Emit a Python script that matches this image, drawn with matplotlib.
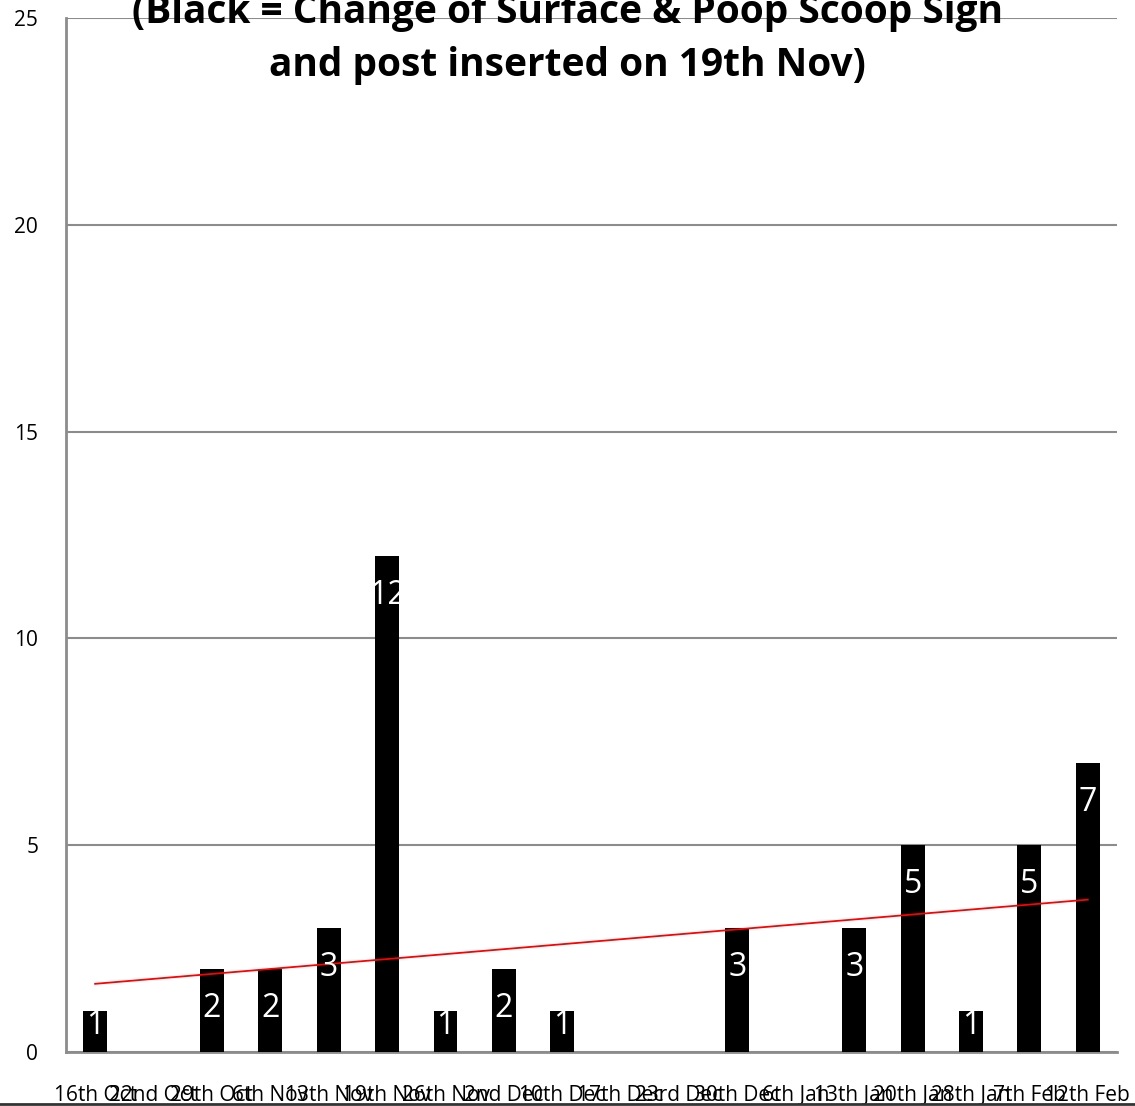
import matplotlib
matplotlib.use('Agg')
import matplotlib.pyplot as plt
import numpy as np

plt.rcParams['font.family'] = ['Open Sans', 'DejaVu Sans']

dates = ['16th Oct', '22nd Oct', '29th Oct', '6th Nov', '13th Nov', '19th Nov',
         '26th Nov', '2nd Dec', '10th Dec', '17th Dec', '23rd Dec', '30th Dec',
         '6th Jan', '13th Jan', '20th Jan', '28th Jan', '7th Feb', '12th Feb']
counts = [1, 0, 2, 2, 3, 12, 1, 2, 1, 0, 0, 3, 0, 3, 5, 1, 5, 7]
title = '(Black = Change of Surface & Poop Scoop Sign\nand post inserted on 19th Nov)'

x = np.arange(len(counts))

fig = plt.figure(figsize=(11.35, 11.06), dpi=100)
ax = fig.add_axes([0.0581, 0.0488, 0.926, 0.9349])

ax.bar(x, counts, width=0.41, color='black', zorder=3)

# linear trend over all points
k, b = np.polyfit(x, counts, 1)
ax.plot(x, k * x + b, color='red', lw=1.3, zorder=4)

for xi, v in zip(x, counts):
    if v == 0:
        continue
    if v == 1:
        ax.annotate(str(v), (xi, v), xytext=(0, 2), textcoords='offset pixels',
                    ha='center', va='top', color='white', fontsize=23, zorder=5)
    else:
        ax.annotate(str(v), (xi, v), xytext=(0, -23), textcoords='offset pixels',
                    ha='center', va='top', color='white', fontsize=23, zorder=5)

ax.set_xlim(-0.5, len(counts) - 0.5)
ax.set_ylim(0, 25)
ax.set_yticks([0, 5, 10, 15, 20, 25])
ax.yaxis.grid(True, color='#8c8c8c', lw=1.5, zorder=0)
ax.set_xticks(x)
ax.set_xticklabels(dates, fontsize=15)
ax.tick_params(axis='both', length=0, labelsize=15)
ax.tick_params(axis='x', pad=24)
ax.tick_params(axis='y', pad=20)

for s in ['top', 'right']:
    ax.spines[s].set_visible(False)
for s in ['left', 'bottom']:
    ax.spines[s].set_color('#8c8c8c')
    ax.spines[s].set_linewidth(2)

fig.text(0.5, 1.0 - 39 / 1106, title, ha='center', va='center', fontsize=28,
         fontweight='bold', linespacing=1.45)

fig.add_artist(plt.Line2D([0, 1], [1 - 1104 / 1106] * 2, color='#333333', lw=2,
                          transform=fig.transFigure))

fig.savefig('out.png', dpi=100)
